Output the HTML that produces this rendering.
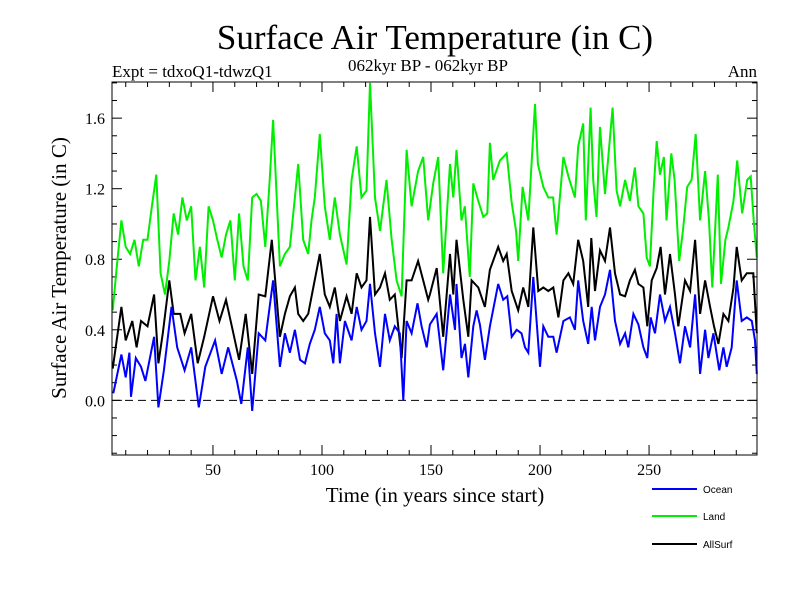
<!DOCTYPE html>
<html><head><meta charset="utf-8"><style>
body{margin:0;background:#fff;}
svg{display:block;}
.serif{font-family:"Liberation Serif",serif;}
.sans{font-family:"Liberation Sans",sans-serif;}
</style></head><body>
<svg id="chart" width="800" height="600" viewBox="0 0 800 600">
<text class="serif" x="435" y="49" font-size="35" text-anchor="middle">Surface Air Temperature (in C)</text>
<text class="serif" x="112" y="77" font-size="17">Expt = tdxoQ1-tdwzQ1</text>
<text class="serif" x="428" y="71" font-size="17" text-anchor="middle">062kyr BP - 062kyr BP</text>
<text class="serif" x="757" y="77" font-size="17" text-anchor="end">Ann</text>
<text class="serif" x="0" y="0" font-size="21" text-anchor="middle" transform="translate(66,268) rotate(-90)">Surface Air Temperature (in C)</text>
<text class="serif" x="435" y="502" font-size="21" text-anchor="middle">Time (in years since start)</text>
<g id="axes"></g>
<g id="series"></g>
<rect x="112" y="82" width="645" height="373" fill="none" stroke="#000" stroke-width="1"/>
<g>
<line x1="652" y1="489" x2="697" y2="489" stroke="#0000ff" stroke-width="2"/>
<text class="sans" x="703" y="493" font-size="10">Ocean</text>
<line x1="652" y1="516" x2="697" y2="516" stroke="#00ee00" stroke-width="2"/>
<text class="sans" x="703" y="520" font-size="10">Land</text>
<line x1="652" y1="544" x2="697" y2="544" stroke="#000" stroke-width="2"/>
<text class="sans" x="703" y="548" font-size="10">AllSurf</text>
</g>
</svg>
<script>
const xTicks=[50,100,150,200,250];
const yTicks=[0.0,0.4,0.8,1.2,1.6];
const yTickLabels=["0.0","0.4","0.8","1.2","1.6"];
const oceanYears=[4.3,8,10,11.7,12.4,14.6,17,19,23,25,27.5,31,33.6,37,40,43.5,46.5,51,54,57,61,63,66,68,71,74,77.6,80.7,83,85.3,87.6,89.9,92.2,94.4,96.7,99,101.3,103.6,105.2,106.7,108.2,110.5,113.6,115.9,118.1,120.4,122,124.3,126.6,128.9,131.1,133.4,135.7,137.3,138.8,141.1,143.8,145.7,148,149.5,152.6,155.6,158.7,161,161.7,164,165.6,167.1,169.4,170.9,172.4,174.7,177,180.8,183.1,185,187,189.3,191.5,193.1,194.6,196.9,200,201.5,203.8,206.1,207.6,210.7,213.7,216,217.5,219.8,222.1,223.7,225.2,227.5,229.8,232.1,234.4,236.7,239,240.5,242.8,245.1,247.4,249.2,250.7,252.7,255,257.3,259.6,261.9,264.2,266.5,268.8,271.1,273.4,275.7,277.2,279.5,282.2,284.1,285.6,287.9,290.2,292.5,294.8,297.1,298.6,299.4];
const oceanValues=[.04,.26,.13,.27,.02,.24,.19,.11,.36,-.04,.17,.53,.30,.17,.30,-.04,.19,.34,.15,.30,.11,-.02,.30,-.06,.38,.34,.68,.19,.38,.27,.40,.23,.21,.32,.40,.53,.38,.34,.21,.49,.21,.45,.34,.53,.40,.45,.66,.38,.19,.49,.34,.42,.38,.00,.45,.38,.55,.42,.30,.43,.49,.17,.60,.40,.66,.24,.32,.13,.42,.51,.43,.23,.42,.66,.57,.59,.36,.40,.38,.30,.27,.70,.19,.42,.36,.36,.27,.45,.47,.40,.68,.45,.32,.53,.34,.53,.60,.74,.45,.32,.38,.30,.49,.43,.30,.24,.47,.38,.60,.45,.53,.38,.21,.42,.30,.60,.15,.40,.24,.38,.17,.30,.19,.30,.68,.45,.47,.45,.34,.15];
const allYears=[4,8,10,13,15,17,20,23,25,27,30,32,35,37,40,43,46,50,53,56,59,62,65,68,71,74,77,80.7,83,85.3,87.6,89.1,91.4,93.7,96,99,101.3,103.6,105.9,108.2,111.3,113.6,115.9,118.1,120.4,122,124.3,126.6,128.9,131.1,133.4,136.5,138.8,141.1,144.1,146.4,148.7,149.5,152.6,155.6,158.7,160.2,161.7,164.8,167.1,168.6,171.7,174.7,177,180.8,183.1,184.7,187,190,192.3,194.6,196.9,199.2,201.5,203.8,206.1,208.4,210.7,213,215.2,217.5,219.8,222.1,223.5,225.2,227.5,229.8,232.1,234.4,236.7,239,241.2,243.5,245.1,247.4,249.2,251.2,253.5,255.3,257.3,259.6,261.9,263.4,266.5,268.8,271.1,273.4,275.7,278,279.8,281.8,284.1,286.4,288.7,290.2,292.5,294.8,297.8,299.4];
const allValues=[.18,.53,.34,.45,.30,.45,.42,.60,.21,.38,.68,.49,.49,.38,.49,.21,.36,.59,.45,.57,.40,.23,.49,.15,.60,.59,.91,.36,.49,.59,.64,.49,.45,.49,.64,.83,.60,.53,.64,.45,.59,.49,.72,.64,.68,1.04,.60,.64,.72,.57,.60,.24,.68,.68,.79,.68,.57,.60,.75,.36,.83,.60,.91,.57,.36,.68,.64,.53,.74,.87,.79,.83,.62,.51,.64,.53,.98,.62,.64,.62,.64,.47,.68,.72,.66,.91,.79,.53,.92,.62,.85,.79,.98,.72,.60,.59,.68,.74,.66,.64,.42,.68,.75,.87,.60,.83,.60,.42,.68,.62,.91,.49,.68,.53,.42,.32,.49,.45,.64,.87,.68,.72,.72,.38];
const landYears=[4,6,8,10,12,14,16,18,20,22,24,26,28,30,32,34,36,38,40,42,44,46,48,50,52,54,56,58,60,62,64,66,68,70,72,74,76,77.6,80.7,83,85.3,87.6,89.1,91.4,93.7,95.2,96.7,99,101.3,103.6,105.9,108.2,111.3,113.6,115.9,118.1,120.4,122,124.3,126.6,129.6,131.9,134.2,136.5,138.8,141.1,144.1,146.4,148.7,151,153.3,155.6,158.7,160.2,161.7,164,165.5,167.8,169.4,171.7,174,175.8,177,178.5,181.6,184.7,187,189,190,192,194.6,197.7,199,201.5,203.8,206,207.6,210.7,213,216,217.5,219.8,221,223.2,224.4,225.9,227.5,229.8,231.3,233.3,235.1,236.7,239,241.2,243.5,245.1,247.4,248.9,250.4,252,253.5,255,256.8,258,260.2,261.7,263.8,265.5,267.5,269.5,271.4,273.4,275.7,277.5,279,281.5,283,285,286.4,288.7,290.4,292.7,295,296.6,298,299.4];
const landValues=[.51,.77,1.02,.87,.83,.91,.76,.91,.91,1.10,1.28,.72,.60,.79,1.06,.94,1.15,1.02,1.10,.68,.87,.64,1.10,1.02,.91,.81,.94,1.02,.68,1.06,.76,.68,1.15,1.17,1.13,.87,1.25,1.59,.76,.83,.87,1.15,1.34,.91,.83,1.02,1.15,1.51,1.10,.91,1.15,.94,.77,1.25,1.44,1.15,1.19,1.80,1.15,.96,1.25,.92,.68,.59,1.42,1.10,1.30,1.38,1.02,1.23,1.38,.72,1.34,1.15,1.42,1.02,1.10,.70,1.23,1.13,1.04,1.06,1.46,1.25,1.36,1.40,1.12,.96,.79,1.21,1.02,1.68,1.34,1.21,1.15,1.15,.94,1.38,1.27,1.15,1.44,1.57,1.02,1.66,1.25,1.04,1.55,1.17,1.38,1.66,1.19,1.10,1.25,1.13,1.32,1.10,1.06,.81,.76,1.17,1.47,1.28,1.38,1.02,1.40,1.25,.79,.96,1.21,1.25,1.51,1.02,1.30,1.02,.64,1.28,.66,.91,.98,1.13,1.36,1.06,1.25,1.27,1.02,.81];

const X0=112,X1=757,Y0=82,Y1=455;
const xMin=3.7,xMax=299.5,yMin=-0.31,yMax=1.805;
function sx(v){return X0+(v-xMin)/(xMax-xMin)*(X1-X0);}
function sy(v){return Y1-(v-yMin)/(yMax-yMin)*(Y1-Y0);}
const NS='http://www.w3.org/2000/svg';
const axes=document.getElementById('axes');
const series=document.getElementById('series');
function mk(tag,attrs,parent){const e=document.createElementNS(NS,tag);for(const k in attrs)e.setAttribute(k,attrs[k]);parent.appendChild(e);return e;}

// minor x ticks
for(let v=10;v<=290;v+=10){
  const big=v%50===0, L=big?10:5;
  const t1=mk('line',{x1:sx(v),x2:sx(v),y1:Y1,y2:Y1-L,stroke:'#000','stroke-width':1},axes);
  
  
  const t2=mk('line',{x1:sx(v),x2:sx(v),y1:Y0,y2:Y0+L,stroke:'#000','stroke-width':1},axes);
  
  
}
xTicks.forEach(v=>{
  const t=mk('text',{x:sx(v),y:Y1+20,'font-size':16,'text-anchor':'middle','class':'serif'},axes);
  t.textContent=String(v);
  
  
});
for(let i=-3;i<=18;i++){
  const v=i/10; const big=(i%4===0), L=big?10:5;
  const a=mk('line',{x1:X0,x2:X0+L,y1:sy(v),y2:sy(v),stroke:'#000','stroke-width':1},axes);
  
  
  const b=mk('line',{x1:X1,x2:X1-L,y1:sy(v),y2:sy(v),stroke:'#000','stroke-width':1},axes);
  
  
}
yTicks.forEach((v,i)=>{
  const t=mk('text',{x:X0-7,y:sy(v)+6,'font-size':16,'text-anchor':'end','class':'serif'},axes);
  t.textContent=yTickLabels[i];
  
  
});
const z=mk('line',{x1:X0,x2:X1,y1:sy(0),y2:sy(0),stroke:'#000','stroke-width':1,'stroke-dasharray':'8,5'},axes);



function draw(years,vals,color,name){
  const pts=years.map((y,i)=>sx(y).toFixed(1)+','+sy(vals[i]).toFixed(1)).join(' ');
  const p=mk('polyline',{points:pts,fill:'none',stroke:color,'stroke-width':2,'stroke-linejoin':'miter'},series);
  
  
}
draw(landYears,landValues,'#00ee00','land-line');
draw(allYears,allValues,'#000000','allsurf-line');
draw(oceanYears,oceanValues,'#0000ff','ocean-line');
</script>
</body></html>
